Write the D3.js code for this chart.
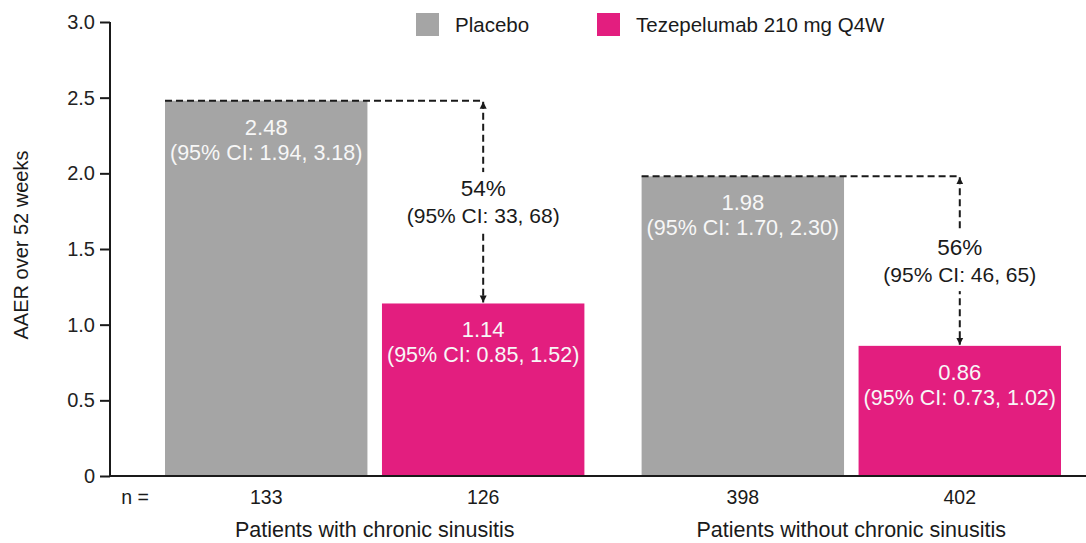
<!DOCTYPE html>
<html>
<head>
<meta charset="utf-8">
<script src="https://cdn.jsdelivr.net/npm/d3@7"></script>
<style>
  html, body { margin: 0; padding: 0; background: #fff; }
  text { font-family: "Liberation Sans", Arial, sans-serif; }
</style>
</head>
<body>
<div id="chart"></div>
<script>
// ---- data ------------------------------------------------------------
const groups = ['Patients with chronic sinusitis', 'Patients without chronic sinusitis'];
const series = ['Placebo', 'Tezepelumab 210 mg Q4W'];
const aaer = [[2.48, 1.14], [1.98, 0.86]];
const ciLabels = [['(95% CI: 1.94, 3.18)', '(95% CI: 0.85, 1.52)'], ['(95% CI: 1.70, 2.30)', '(95% CI: 0.73, 1.02)']];
const nValues = [[133, 126], [398, 402]];
const reduction = ['54%', '56%'];
const reductionCI = ['(95% CI: 33, 68)', '(95% CI: 46, 65)'];
const yTicks = [0, 0.5, 1.0, 1.5, 2.0, 2.5, 3.0];

// ---- setup -----------------------------------------------------------
const width = 1086, height = 543;
const colors = ['#a5a5a5', '#e31e7f'];
const ink = '#1a1a1a';

const svg = d3.select('#chart').append('svg')
  .attr('width', width).attr('height', height)
  .attr('viewBox', [0, 0, width, height]);

const y = d3.scaleLinear().domain([0, 3]).range([476, 22]);
const x0 = d3.scaleBand().domain(groups).range([165, 1061]).paddingInner(0.12).paddingOuter(0);
const x1 = d3.scaleBand().domain(series).range([0, x0.bandwidth()]).paddingInner(0.067).paddingOuter(0);

// ---- bars ------------------------------------------------------------
const gGroups = svg.append('g').selectAll('g')
  .data(groups).join('g')
  .attr('transform', d => `translate(${x0(d)},0)`);

gGroups.each(function (g, gi) {
  const sel = d3.select(this);
  series.forEach((s, si) => {
    const v = aaer[gi][si];
    const cx = x1(s) + x1.bandwidth() / 2;
    sel.append('rect')
      .attr('x', x1(s)).attr('width', x1.bandwidth())
      .attr('y', y(v)).attr('height', y(0) - y(v))
      .attr('fill', colors[si]);
    sel.append('text')
      .attr('x', cx).attr('y', y(v) + 34)
      .attr('text-anchor', 'middle').attr('fill', '#f7f7f7')
      .attr('font-size', 22).text(v.toFixed(2));
    sel.append('text')
      .attr('x', cx).attr('y', y(v) + 59)
      .attr('text-anchor', 'middle').attr('fill', '#f7f7f7')
      .attr('font-size', 21.5).text(ciLabels[gi][si]);
    sel.append('text')
      .attr('x', cx).attr('y', 504)
      .attr('text-anchor', 'middle').attr('fill', ink)
      .attr('font-size', 19.5).text(nValues[gi][si]);
  });
  sel.append('text')
    .attr('x', x0.bandwidth() / 2).attr('y', 537)
    .attr('text-anchor', 'middle').attr('fill', ink)
    .attr('font-size', 21.5).text(g);
});

// ---- reduction annotations --------------------------------------------
svg.append('defs').append('marker')
  .attr('id', 'arrow').attr('viewBox', '0 0 10 10')
  .attr('refX', 10).attr('refY', 5)
  .attr('markerWidth', 7).attr('markerHeight', 9)
  .attr('markerUnits', 'userSpaceOnUse')
  .attr('orient', 'auto-start-reverse')
  .append('path').attr('d', 'M0,0 L10,5 L0,10 Z').attr('fill', ink);

gGroups.each(function (g, gi) {
  const sel = d3.select(this);
  const top = y(aaer[gi][0]);
  const bot = y(aaer[gi][1]);
  const ax = x1(series[1]) + x1.bandwidth() / 2;
  sel.append('path')
    .attr('d', `M${x1(series[0])},${top} H${ax}`)
    .attr('stroke', ink).attr('stroke-width', 2).attr('stroke-dasharray', '7,4').attr('fill', 'none');
  sel.append('line')
    .attr('x1', ax).attr('x2', ax).attr('y1', top + 1).attr('y2', bot - 1)
    .attr('stroke', ink).attr('stroke-width', 2).attr('stroke-dasharray', '7,4')
    .attr('marker-start', 'url(#arrow)').attr('marker-end', 'url(#arrow)');
  const mid = (top + bot) / 2;
  sel.append('rect')
    .attr('x', ax - 82).attr('y', mid - 30).attr('width', 164).attr('height', 60)
    .attr('fill', '#fff');
  sel.append('text')
    .attr('x', ax).attr('y', mid - 6)
    .attr('text-anchor', 'middle').attr('fill', ink)
    .attr('font-size', 22.5).text(reduction[gi]);
  sel.append('text')
    .attr('x', ax).attr('y', mid + 21)
    .attr('text-anchor', 'middle').attr('fill', ink)
    .attr('font-size', 21).text(reductionCI[gi]);
});

// ---- axes ------------------------------------------------------------
const yAxis = svg.append('g')
  .attr('transform', 'translate(110,0)')
  .call(d3.axisLeft(y).tickValues(yTicks).tickSize(10).tickPadding(5)
    .tickFormat(d => d === 0 ? '0' : d3.format('.1f')(d)));
yAxis.select('.domain').attr('stroke', ink).attr('stroke-width', 2).attr('d', 'M0,22 V477');
yAxis.selectAll('.tick line').attr('stroke', ink).attr('stroke-width', 2);
yAxis.selectAll('.tick text').attr('fill', '#222').attr('font-size', 20)
  .attr('font-family', '"Liberation Sans", Arial, sans-serif');

svg.append('line')
  .attr('x1', 109).attr('x2', width).attr('y1', y(0)).attr('y2', y(0))
  .attr('stroke', ink).attr('stroke-width', 2);

svg.append('text')
  .attr('transform', 'translate(28,245) rotate(-90)')
  .attr('text-anchor', 'middle').attr('fill', ink)
  .attr('font-size', 20).text('AAER over 52 weeks');

svg.append('text')
  .attr('x', 135).attr('y', 504)
  .attr('text-anchor', 'middle').attr('fill', ink)
  .attr('font-size', 19.5).text('n =');

// ---- legend ----------------------------------------------------------
const legendX = [416, 597];
const legend = svg.append('g').selectAll('g')
  .data(series).join('g')
  .attr('transform', (d, i) => `translate(${legendX[i]},13)`);
legend.append('rect').attr('width', 23).attr('height', 23).attr('fill', (d, i) => colors[i]);
legend.append('text')
  .attr('x', 39).attr('y', 19)
  .attr('fill', ink).attr('font-size', 20.5).text(d => d);
</script>
</body>
</html>
